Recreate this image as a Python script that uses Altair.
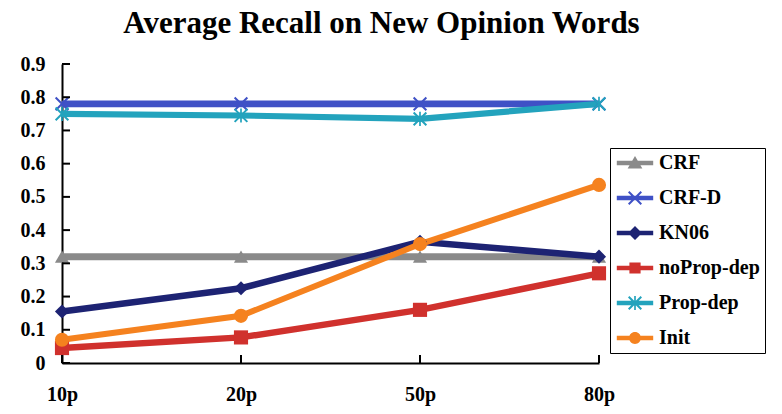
import altair as alt
import pandas as pd

# ---- data ----
steps = ["10p", "20p", "50p", "80p"]
series_names = ["CRF", "CRF-D", "KN06", "noProp-dep", "Prop-dep", "Init"]
series_keys = ["k1", "k2", "k3", "k4", "k5", "k6"]
crf = [0.32, 0.32, 0.32, 0.32]
crf_d = [0.78, 0.78, 0.78, 0.78]
kn06 = [0.155, 0.225, 0.365, 0.32]
noprop_dep = [0.045, 0.077, 0.16, 0.27]
prop_dep = [0.75, 0.745, 0.735, 0.78]
init = [0.07, 0.142, 0.358, 0.536]
y_ticks = [0, 0.1, 0.2, 0.3, 0.4, 0.5, 0.6, 0.7, 0.8, 0.9]

values = [crf, crf_d, kn06, noprop_dep, prop_dep, init]

# ---- styles ----
colors = ["#8a8a8a", "#3f51c6", "#1d2373", "#d0312d", "#23a3bd", "#f5821f"]
X_PATH = ("M-1,-0.8L-0.8,-1L1,0.8L0.8,1Z "
          "M0.8,-1L1,-0.8L-0.8,1L-1,0.8Z")
STAR_PATH = X_PATH + " M-0.12,-1H0.12V1H-0.12Z"
shapes = ["triangle-up", X_PATH, "diamond", "square", STAR_PATH, "circle"]
widths = [7, 6, 6, 4, 5, 4]

# legend symbols: a line segment with the marker on top
LINE_SEG = "M-2.6,-0.33H2.6V0.33H-2.6Z "
legend_shapes = [
    LINE_SEG + "M0,-1L1.05,0.8H-1.05Z",
    LINE_SEG + X_PATH,
    LINE_SEG + "M0,-1L1,0L0,1L-1,0Z",
    LINE_SEG + "M-0.8,-0.8H0.8V0.8H-0.8Z",
    LINE_SEG + STAR_PATH,
    LINE_SEG + "M-0.85,0A0.85,0.85 0 1,1 0.85,0A0.85,0.85 0 1,1 -0.85,0Z",
]

rows = []
for name, key, vals in zip(series_names, series_keys, values):
    for s, v in zip(steps, vals):
        rows.append({"step": s, "series": name, "key": key, "value": v})
df = pd.DataFrame(rows)

ytick_df = pd.DataFrame({"step": [steps[0]] * len(y_ticks), "value": y_ticks})
xtick_df = pd.DataFrame({"step": steps, "value": [0] * len(steps)})

FONT = "Liberation Serif"

x_scale = alt.Scale(domain=steps, type="point", padding=0)
y_scale = alt.Scale(domain=[0, 0.9], nice=False)

x_axis = alt.Axis(orient="bottom", labelAngle=0, ticks=False, labelPadding=21,
                  domainColor="black", domainWidth=2, labelBaseline="top")
y_axis = alt.Axis(orient="left", values=y_ticks, labelOverlap=False,
                  format="~g", ticks=False, grid=False, labelPadding=17,
                  domainColor="black", domainWidth=2)
x_enc = alt.X("step:O", scale=x_scale, title=None, axis=x_axis)
y_enc = alt.Y("value:Q", scale=y_scale, title=None, axis=y_axis)

line = alt.Chart(df).mark_line().encode(
    x=x_enc,
    y=y_enc,
    stroke=alt.Stroke("series:N", scale=alt.Scale(domain=series_names, range=colors),
                      legend=None),
    strokeWidth=alt.StrokeWidth("series:N", scale=alt.Scale(domain=series_names, range=widths),
                                legend=None),
    order=alt.Order("step:O"),
)

points = alt.Chart(df).mark_point(filled=True, size=200, opacity=1, strokeWidth=0).encode(
    x=x_enc,
    y=y_enc,
    fill=alt.Fill("key:N", scale=alt.Scale(domain=series_keys, range=colors), legend=None),
    shape=alt.Shape("key:N", scale=alt.Scale(domain=series_keys, range=shapes), legend=None),
)

leg = alt.Legend(orient="none", legendX=548, legendY=84, title=None,
                 labelFont=FONT, labelFontSize=20, labelFontWeight="bold", labelColor="black",
                 padding=5, rowPadding=15, symbolOffset=10, labelOffset=14,
                 symbolSize=196, symbolStrokeWidth=0, symbolOpacity=1,
                 strokeColor="black")
legend_layer = alt.Chart(df).mark_point(filled=True, opacity=0, size=1).encode(
    x=x_enc,
    y=y_enc,
    fill=alt.Fill("series:N", scale=alt.Scale(domain=series_names, range=colors), legend=leg),
    shape=alt.Shape("series:N", scale=alt.Scale(domain=series_names, range=legend_shapes),
                    legend=leg),
)

yticks = alt.Chart(ytick_df).mark_tick(orient="horizontal", size=8, thickness=2,
                                      color="black", xOffset=4, opacity=1).encode(
    x=x_enc, y=y_enc)
xticks = alt.Chart(xtick_df).mark_tick(orient="vertical", size=8, thickness=2,
                                      color="black", yOffset=-4, opacity=1).encode(
    x=x_enc, y=y_enc)

chart = alt.layer(line, points, legend_layer, yticks, xticks).resolve_scale(
    fill="independent", shape="independent"
).properties(
    width=537,
    height=299,
    autosize=alt.AutoSizeParams(type="none"),
    padding={"left": 54, "top": 56, "right": 175, "bottom": 43},
    title=alt.Title("Average Recall on New Opinion Words", font=FONT, fontSize=31,
                    fontWeight="bold", color="black", anchor="middle", dx=51, offset=14),
).configure(
    background="white"
).configure_view(
    strokeWidth=0
).configure_axis(
    labelFont=FONT, labelFontSize=20, labelFontWeight="bold", labelColor="black", grid=False
)

chart.save("out.html", embed_options={"renderer": "svg", "actions": False})
